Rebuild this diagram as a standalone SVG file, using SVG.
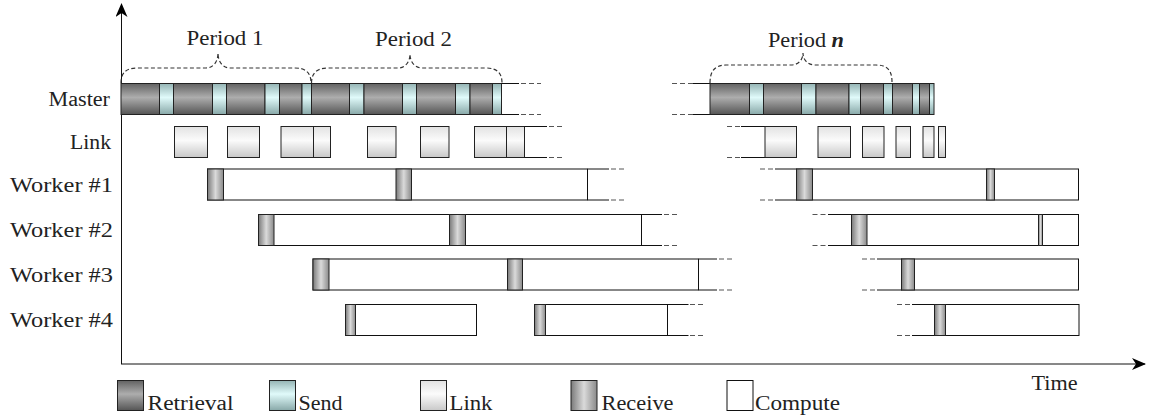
<svg xmlns="http://www.w3.org/2000/svg" width="1150" height="418" viewBox="0 0 1150 418">
<defs>
<linearGradient id="gRetr" x1="0" y1="0" x2="0" y2="1"><stop offset="0" stop-color="#626262"/><stop offset="0.45" stop-color="#adadad"/><stop offset="1" stop-color="#555555"/></linearGradient>
<linearGradient id="gSend" x1="0" y1="0" x2="0" y2="1"><stop offset="0" stop-color="#94b4b4"/><stop offset="0.45" stop-color="#e0fafa"/><stop offset="1" stop-color="#88a8a8"/></linearGradient>
<linearGradient id="gLink" x1="0" y1="0" x2="0" y2="1"><stop offset="0" stop-color="#e2e2e2"/><stop offset="0.45" stop-color="#fbfbfb"/><stop offset="1" stop-color="#c8c8c8"/></linearGradient>
<linearGradient id="gRecv" x1="0" y1="0" x2="1" y2="0"><stop offset="0" stop-color="#7a7a7a"/><stop offset="0.5" stop-color="#dadada"/><stop offset="1" stop-color="#8a8a8a"/></linearGradient>
<marker id="arr" viewBox="0 0 14 12" refX="13" refY="6" markerWidth="14" markerHeight="12" markerUnits="userSpaceOnUse" orient="auto"><path d="M0,0 L14,6 L0,12 L4,6 Z" fill="#000"/></marker>
</defs>
<style>
.r{fill:url(#gRetr);stroke:#222;stroke-width:1}
.s{fill:url(#gSend);stroke:#222;stroke-width:1}
.l{fill:url(#gLink);stroke:#222;stroke-width:1}
.v{fill:url(#gRecv);stroke:#222;stroke-width:1}
.c{fill:#fff;stroke:#111;stroke-width:1}
.ln{stroke:#111;stroke-width:1;fill:none}
.d{stroke:#555;stroke-width:1;stroke-dasharray:5 3;fill:none}
.br{stroke:#333;stroke-width:1.2;stroke-dasharray:4 2.5;fill:none}
.t{font-family:"Liberation Serif","Times New Roman",serif;font-size:20px;fill:#222}
</style>
<rect width="1150" height="418" fill="#fff"/>

<g id="axes">
<line class="ln" x1="121.5" y1="364" x2="121.5" y2="4" marker-end="url(#arr)"/>
<line class="ln" x1="121" y1="364" x2="1145" y2="364" marker-end="url(#arr)"/>
<text class="t" x="1031.5" y="390" textLength="46" lengthAdjust="spacingAndGlyphs">Time</text>
</g>

<g id="labels">
<text class="t" x="48.5" y="106" textLength="61.5" lengthAdjust="spacingAndGlyphs">Master</text>
<text class="t" x="70" y="148.5" textLength="41" lengthAdjust="spacingAndGlyphs">Link</text>
<text class="t" x="10" y="191.5" textLength="103" lengthAdjust="spacingAndGlyphs">Worker #1</text>
<text class="t" x="10" y="236.5" textLength="103" lengthAdjust="spacingAndGlyphs">Worker #2</text>
<text class="t" x="10" y="281.5" textLength="103" lengthAdjust="spacingAndGlyphs">Worker #3</text>
<text class="t" x="10" y="326.5" textLength="103" lengthAdjust="spacingAndGlyphs">Worker #4</text>
</g>

<g id="periods">
<path class="br" d="M121,83 C121,73 126,68 137,68 L206,68 C213,68 218,62 218,53 C218,62 223,68 230,68 L295,68 C306,68 311,73 311,83"/>
<path class="br" d="M311.5,83 C311.5,73 317,68 328,68 L398,68 C405,68 410,62 410,54 C410,62 415,68 422,68 L486,68 C497,68 502,73 502,83"/>
<path class="br" d="M710,83 C710,71 715,65 726,65 L791,65 C798,65 803,60 803,53 C803,60 808,65 815,65 L876,65 C887,65 892,70 892,82"/>
<text class="t" x="186.5" y="45" textLength="77" lengthAdjust="spacingAndGlyphs">Period 1</text>
<text class="t" x="375" y="46" textLength="77" lengthAdjust="spacingAndGlyphs">Period 2</text>
<text class="t" x="768" y="47" textLength="76" lengthAdjust="spacingAndGlyphs">Period <tspan font-style="italic" font-weight="bold">n</tspan></text>
</g>

<g id="master">
<rect class="r" x="121" y="83.5" width="38.5" height="31"/>
<rect class="s" x="159.5" y="83.5" width="14" height="31"/>
<rect class="r" x="173.5" y="83.5" width="39" height="31"/>
<rect class="s" x="212.5" y="83.5" width="14" height="31"/>
<rect class="r" x="226.5" y="83.5" width="38.5" height="31"/>
<rect class="s" x="265" y="83.5" width="14.5" height="31"/>
<rect class="r" x="279.5" y="83.5" width="22.5" height="31"/>
<rect class="s" x="302" y="83.5" width="9.5" height="31"/>
<rect class="r" x="311.5" y="83.5" width="38" height="31"/>
<rect class="s" x="349.5" y="83.5" width="14.5" height="31"/>
<rect class="r" x="364" y="83.5" width="38.5" height="31"/>
<rect class="s" x="402.5" y="83.5" width="14" height="31"/>
<rect class="r" x="416.5" y="83.5" width="39" height="31"/>
<rect class="s" x="455.5" y="83.5" width="14.5" height="31"/>
<rect class="r" x="470" y="83.5" width="22.5" height="31"/>
<rect class="s" x="492.5" y="83.5" width="9" height="31"/>
<path class="ln" d="M501.5,83.5 H519 M501.5,114.5 H519"/>
<path class="d" d="M521,83.5 H541 M521,114.5 H541"/>
<path class="d" d="M672,83.5 H693 M672,114.5 H693"/>
<path class="ln" d="M693,83.5 H710 M693,114.5 H710"/>
<rect class="r" x="710" y="83.5" width="39.5" height="31"/>
<rect class="s" x="749.5" y="83.5" width="14" height="31"/>
<rect class="r" x="763.5" y="83.5" width="38" height="31"/>
<rect class="s" x="801.5" y="83.5" width="14.5" height="31"/>
<rect class="r" x="816" y="83.5" width="33" height="31"/>
<rect class="s" x="849" y="83.5" width="11.5" height="31"/>
<rect class="r" x="860.5" y="83.5" width="23" height="31"/>
<rect class="s" x="883.5" y="83.5" width="9" height="31"/>
<rect class="r" x="892.5" y="83.5" width="20" height="31"/>
<rect class="s" x="912.5" y="83.5" width="7" height="31"/>
<rect class="r" x="919.5" y="83.5" width="10" height="31"/>
<rect class="s" x="929.5" y="83.5" width="4.5" height="31"/>
</g>

<g id="link">
<rect class="l" x="174.5" y="126.5" width="33" height="31"/>
<rect class="l" x="227.5" y="126.5" width="32" height="31"/>
<rect class="l" x="281" y="126.5" width="32.5" height="31"/>
<rect class="l" x="313.5" y="126.5" width="17" height="31"/>
<rect class="l" x="367.5" y="126.5" width="28.5" height="31"/>
<rect class="l" x="420.5" y="126.5" width="28.5" height="31"/>
<rect class="l" x="474.5" y="126.5" width="32" height="31"/>
<rect class="l" x="506.5" y="126.5" width="18" height="31"/>
<path class="ln" d="M524.5,126.5 H547 M524.5,157.5 H547"/>
<path class="d" d="M549,126.5 H563 M549,157.5 H563"/>
<path class="d" d="M727,126.5 H741 M727,157.5 H741"/>
<path class="ln" d="M741,126.5 H765 M741,157.5 H765"/>
<rect class="l" x="765" y="126.5" width="31.5" height="31"/>
<rect class="l" x="818" y="126.5" width="32.5" height="31"/>
<rect class="l" x="862.5" y="126.5" width="21.5" height="31"/>
<rect class="l" x="896" y="126.5" width="14.5" height="31"/>
<rect class="l" x="923" y="126.5" width="11" height="31"/>
<rect class="l" x="938.5" y="126.5" width="7" height="31"/>
</g>

<g id="worker1">
<rect class="c" x="207.5" y="169" width="380" height="31"/>
<rect class="v" x="207.5" y="169" width="16" height="31"/>
<rect class="v" x="396" y="169" width="15.5" height="31"/>
<path class="ln" d="M587.5,169 H609 M587.5,200 H609"/>
<path class="d" d="M611,169 H626 M611,200 H626"/>
<path class="d" d="M760,169 H775 M760,200 H775"/>
<path class="ln" d="M775,169 H796.5 M775,200 H796.5"/>
<rect class="c" x="796.5" y="169" width="282" height="31"/>
<rect class="v" x="796.5" y="169" width="16" height="31"/>
<rect class="v" x="986.5" y="169" width="8" height="31"/>
</g>

<g id="worker2">
<rect class="c" x="258.5" y="214.5" width="383" height="31"/>
<rect class="v" x="258.5" y="214.5" width="15.5" height="31"/>
<rect class="v" x="449.5" y="214.5" width="16" height="31"/>
<path class="ln" d="M641.5,214.5 H662 M641.5,245.5 H662"/>
<path class="d" d="M664,214.5 H678 M664,245.5 H678"/>
<path class="d" d="M812.5,214.5 H828 M812.5,245.5 H828"/>
<path class="ln" d="M828,214.5 H851.5 M828,245.5 H851.5"/>
<rect class="c" x="851.5" y="214.5" width="227" height="31"/>
<rect class="v" x="851.5" y="214.5" width="15.5" height="31"/>
<rect class="v" x="1038.5" y="214.5" width="4" height="31"/>
</g>

<g id="worker3">
<rect class="c" x="313" y="259" width="385.5" height="31"/>
<rect class="v" x="313" y="259" width="16" height="31"/>
<rect class="v" x="507.5" y="259" width="15" height="31"/>
<path class="ln" d="M698.5,259 H717 M698.5,290 H717"/>
<path class="d" d="M719,259 H733 M719,290 H733"/>
<path class="d" d="M862,259 H877 M862,290 H877"/>
<path class="ln" d="M877,259 H901.5 M877,290 H901.5"/>
<rect class="c" x="901.5" y="259" width="177" height="31"/>
<rect class="v" x="901.5" y="259" width="13" height="31"/>
</g>

<g id="worker4">
<rect class="c" x="345.5" y="304.5" width="131" height="31"/>
<rect class="v" x="345.5" y="304.5" width="10" height="31"/>
<rect class="c" x="534.5" y="304.5" width="133" height="31"/>
<rect class="v" x="534.5" y="304.5" width="11" height="31"/>
<path class="ln" d="M667.5,304.5 H688.5 M667.5,335.5 H688.5"/>
<path class="d" d="M690,304.5 H704 M690,335.5 H704"/>
<path class="d" d="M897,304.5 H912 M897,335.5 H912"/>
<path class="ln" d="M912,304.5 H934.5 M912,335.5 H934.5"/>
<rect class="c" x="934.5" y="304.5" width="144.5" height="31"/>
<rect class="v" x="934.5" y="304.5" width="11" height="31"/>
</g>

<g id="legend">
<rect class="r" x="117.5" y="380.5" width="26" height="30"/>
<text class="t" x="147.5" y="410" textLength="86" lengthAdjust="spacingAndGlyphs">Retrieval</text>
<rect class="s" x="269.5" y="380.5" width="26" height="30"/>
<text class="t" x="298.5" y="410" textLength="44" lengthAdjust="spacingAndGlyphs">Send</text>
<rect class="l" x="420.5" y="380.5" width="26" height="30"/>
<text class="t" x="449.5" y="410" textLength="43" lengthAdjust="spacingAndGlyphs">Link</text>
<rect class="v" x="571" y="380.5" width="26" height="30"/>
<text class="t" x="601.5" y="410" textLength="72" lengthAdjust="spacingAndGlyphs">Receive</text>
<rect class="c" x="727" y="380.5" width="26" height="30"/>
<text class="t" x="755" y="410" textLength="85" lengthAdjust="spacingAndGlyphs">Compute</text>
</g>
</svg>
